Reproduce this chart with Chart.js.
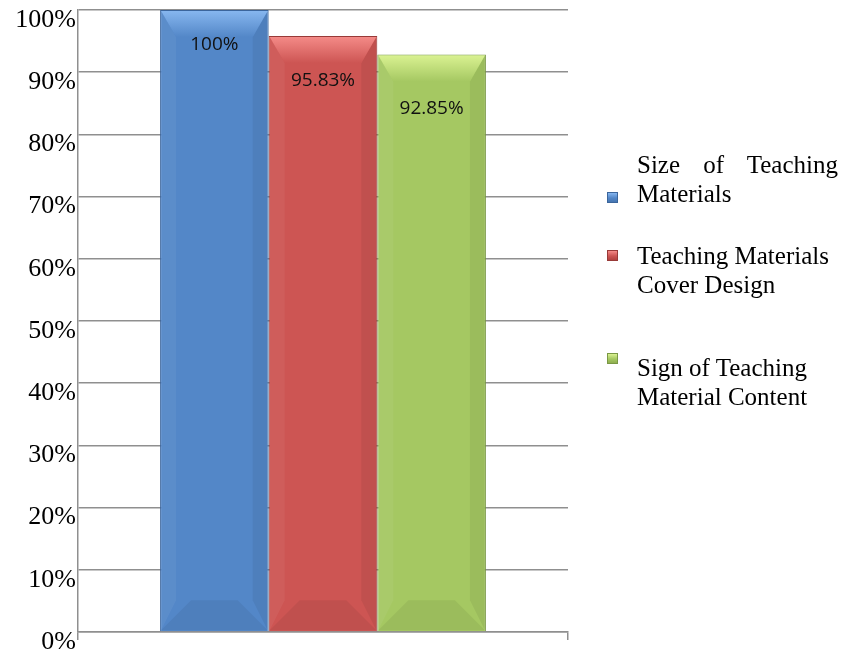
<!DOCTYPE html>
<html>
<head>
<meta charset="utf-8">
<title>Teaching materials</title>
<script src="https://cdn.jsdelivr.net/npm/chart.js@4.4.1/dist/chart.umd.min.js"></script>
<style>
  html, body { margin: 0; padding: 0; background: #fff; }
  #wrap { position: relative; width: 844px; height: 654px; overflow: hidden; }
  #legend { font-family: 'Liberation Serif', 'Times New Roman', serif; font-size: 25px; line-height: 29px; color: #000; }
  .item { position: absolute; left: 637px; width: 201px; white-space: nowrap; }
  .item .justify { text-align: justify; text-align-last: justify; white-space: normal; }
  .swatch { position: absolute; left: -30px; width: 11px; height: 11px; box-sizing: border-box; }
</style>
</head>
<body>
<div id="wrap">
  <canvas id="barChart" width="844" height="654"></canvas>
  <div id="legend"></div>
</div>
<script>
// Series names, split the way they wrap in the legend
const seriesLines = [
  ['Size of Teaching', 'Materials'],
  ['Teaching Materials', 'Cover Design'],
  ['Sign of Teaching', 'Material Content']
];
const seriesNames = seriesLines.map(l => l.join(' '));
const percentages = [100, 95.83, 92.85];
const yMin = 0;
const yMax = 100;
const yStep = 10;

// face / highlight / shadow / border per series
const palette = [
  { face: '#5387c8', light: '#86b6ef', dark: '#4675b0', border: '#3b659c' },
  { face: '#cd5553', light: '#f48a87', dark: '#b0413f', border: '#983a38' },
  { face: '#a5c862', light: '#d9f191', dark: '#8fae4f', border: '#7a9845' }
];

function poly(ctx, pts, fill) {
  ctx.beginPath();
  ctx.moveTo(pts[0][0], pts[0][1]);
  for (let i = 1; i < pts.length; i++) ctx.lineTo(pts[i][0], pts[i][1]);
  ctx.closePath();
  ctx.fillStyle = fill;
  ctx.fill();
}

// soft bevelled edges on every bar
const bevelPlugin = {
  id: 'bevel',
  afterDatasetsDraw(chart) {
    const ctx = chart.ctx;
    chart.data.datasets.forEach((ds, i) => {
      const c = palette[i];
      chart.getDatasetMeta(i).data.forEach(bar => {
        const p = bar.getProps(['x', 'y', 'base', 'width'], true);
        const l = p.x - p.width / 2 + 1, r = p.x + p.width / 2 - 1;
        const t = p.y + 1, b = p.base - 1;
        const sx = 15, ty = 26, by = 30;
        ctx.save();
        // left side, a touch lighter
        poly(ctx, [[l, t], [l + sx, t + ty], [l + sx, b - by], [l, b]], 'rgba(255,255,255,0.05)');
        // right side, darker
        poly(ctx, [[r, t], [r - sx, t + ty], [r - sx, b - by], [r, b]], 'rgba(0,0,0,0.06)');
        // bottom, darker
        poly(ctx, [[l, b], [l + sx * 2, b - by], [r - sx * 2, b - by], [r, b]], 'rgba(0,0,0,0.06)');
        // top highlight
        const g = ctx.createLinearGradient(0, t, 0, t + ty);
        g.addColorStop(0, c.light);
        g.addColorStop(1, c.face);
        poly(ctx, [[l, t], [r, t], [r - sx, t + ty], [l + sx, t + ty]], g);
        ctx.restore();
      });
    });
  }
};

// value printed inside the top of each bar
const labelDrop = [35, 45, 54];
const valueLabelPlugin = {
  id: 'valueLabels',
  afterDatasetsDraw(chart) {
    const ctx = chart.ctx;
    ctx.save();
    ctx.font = '19px "Open Sans", "Liberation Sans", sans-serif';
    ctx.fillStyle = '#111';
    ctx.textAlign = 'center';
    ctx.textBaseline = 'middle';
    chart.data.datasets.forEach((ds, i) => {
      chart.getDatasetMeta(i).data.forEach((bar, j) => {
        const v = ds.data[j];
        ctx.fillText(v + '%', bar.x, bar.y + labelDrop[i]);
      });
    });
    ctx.restore();
  }
};

const ctx = document.getElementById('barChart').getContext('2d');
const barChart = new Chart(ctx, {
  type: 'bar',
  data: {
    labels: [''],
    datasets: seriesNames.map((name, i) => ({
      label: name,
      data: [percentages[i]],
      backgroundColor: palette[i].face,
      borderColor: palette[i].border,
      borderWidth: 1,
      categoryPercentage: 0.665,
      barPercentage: 1.0
    }))
  },
  options: {
    responsive: false,
    animation: false,
    layout: { padding: { top: 10, right: 276, left: 0, bottom: 0 } },
    plugins: {
      legend: { display: false },
      tooltip: { enabled: false }
    },
    scales: {
      x: {
        offset: true,
        grid: {
          display: true,
          drawOnChartArea: false,
          drawTicks: true,
          tickLength: 8,
          color: '#8f8f8f',
          lineWidth: 1.5,
          offset: true
        },
        border: { color: '#8f8f8f', width: 1.5 },
        ticks: { display: false },
        afterFit(scale) {
          scale.height = 22;
          scale.paddingLeft = 0;
          scale.paddingRight = 0;
        }
      },
      y: {
        min: yMin,
        max: yMax,
        grid: {
          color: '#8f8f8f',
          lineWidth: 1.5,
          drawTicks: false
        },
        border: { color: '#8f8f8f', width: 1.5 },
        ticks: {
          stepSize: yStep,
          padding: 2,
          labelOffset: 10,
          color: '#000',
          font: { family: '"Liberation Serif", "Times New Roman", serif', size: 26 },
          callback: v => v + '%'
        },
        afterFit(scale) {
          scale.width = 78;
          scale.paddingTop = 0;
          scale.paddingBottom = 0;
        }
      }
    }
  },
  plugins: [bevelPlugin, valueLabelPlugin]
});

// legend built from the same series
const legendTops = [150, 241, 353];
const swatchTops = [42, 9, 0];
const legendEl = document.getElementById('legend');
seriesLines.forEach((lines, i) => {
  const item = document.createElement('div');
  item.className = 'item';
  item.style.top = legendTops[i] + 'px';
  const sw = document.createElement('div');
  sw.className = 'swatch';
  sw.style.top = swatchTops[i] + 'px';
  sw.style.background = 'linear-gradient(' + palette[i].light + ', ' + palette[i].face + ' 55%, ' + palette[i].dark + ')';
  sw.style.border = '1px solid ' + palette[i].border;
  item.appendChild(sw);
  lines.forEach((text, k) => {
    const line = document.createElement('div');
    line.textContent = text;
    if (i === 0 && k === 0) line.className = 'justify';
    item.appendChild(line);
  });
  legendEl.appendChild(item);
});
</script>
</body>
</html>
